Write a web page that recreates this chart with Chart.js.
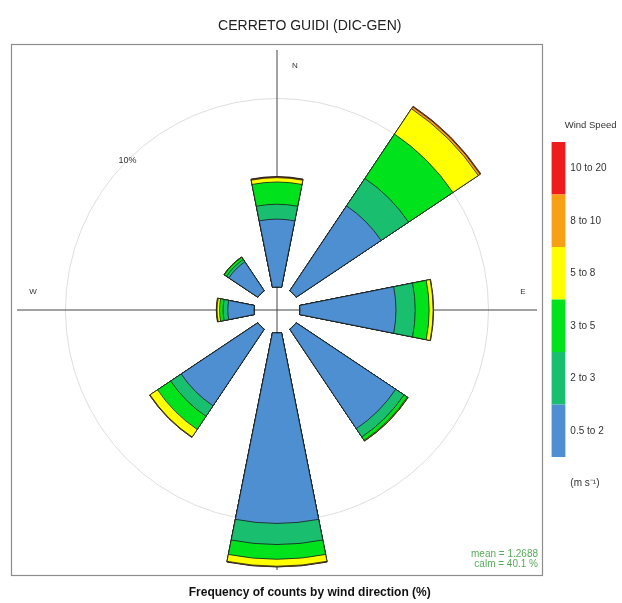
<!DOCTYPE html>
<html>
<head>
<meta charset="utf-8">
<script src="https://cdn.jsdelivr.net/npm/chart.js@4"></script>
<style>
  html, body { margin: 0; padding: 0; background: #fff; }
  #wrap { width: 622px; height: 603px; position: relative; }
</style>
</head>
<body>
<div id="wrap"><canvas id="rose"></canvas></div>
<script>
// wind directions (wedges), speed bins and frequencies (%) per bin
const directions = ["N", "NE", "E", "SE", "S", "SW", "W", "NW"];
const speedBins = ["0.5 to 2", "2 to 3", "3 to 5", "5 to 8", "8 to 10", "10 to 20"];

const ws05to2 = [3.60, 5.42, 5.09, 6.35, 10.10, 4.89, 1.39, 1.85];
const ws2to3  = [0.79, 1.75, 1.02, 0.53, 1.12, 0.67, 0.25, 0.15];
const ws3to5  = [1.18, 2.83, 0.74, 0.21, 0.78, 0.84, 0.19, 0.14];
const ws5to8  = [0.23, 1.62, 0.21, 0.04, 0.37, 0.48, 0.13, 0.02];
const ws8to10 = [0.04, 0.12, 0.02, 0.01, 0.03, 0.03, 0.03, 0.00];
const ws10to20 = [0.02, 0.04, 0.00, 0.00, 0.01, 0.00, 0.01, 0.00];

const gridTicks = [10];
const meanSpeed = "1.2688";
const calmPct = "40.1";

const binColors = ["#4d8fd0", "#19bf6e", "#00e31c", "#ffff00", "#f7a013", "#ee1c1c"];
const FONT = "'Liberation Sans', Arial, sans-serif";

// cumulative stacks, one dataset per bin; odd slots are the gaps between wedges
const bins = [ws05to2, ws2to3, ws3to5, ws5to8, ws8to10, ws10to20];
const running = directions.map(() => 0);
const datasets = bins.map((bin, b) => {
  const data = [];
  directions.forEach((d, i) => {
    running[i] += bin[i];
    data.push(+running[i].toFixed(3));
    data.push(0);
  });
  return {
    label: speedBins[b],
    data: data,
    backgroundColor: (c) => (c.dataIndex % 2 ? "rgba(0,0,0,0)" : binColors[b]),
    borderColor: "#1b1b1b",
    borderWidth: (c) => (c.dataIndex % 2 ? 0 : 0.8)
  };
});

// 32 spokes at 11.25 deg so N/E/S/W fall on a spoke
const spokes = Array.from({ length: 32 }, (_, i) => (i % 8 === 1 ? ["N", "E", "S", "W"][(i - 1) / 8] : ""));

const rMin = -1.22;
const rMax = 12.57;

// wedges start from the hole (value 0) instead of the centre
const holePlugin = {
  id: "hole",
  afterDatasetsUpdate(chart) {
    const r = chart.scales.r;
    const inner = r.getDistanceFromCenterForValue(0);
    chart.data.datasets.forEach((ds, k) => {
      chart.getDatasetMeta(k).data.forEach((arc, i) => {
        if (i % 2 === 0) arc.innerRadius = inner;
      });
    });
  }
};

const framePlugin = {
  id: "frame",
  beforeDatasetsDraw(chart) {
    const r = chart.scales.r;
    const half = r.drawingArea + 5.5;
    const ctx = chart.ctx;
    ctx.save();
    ctx.strokeStyle = "#8c8c8c";
    ctx.lineWidth = 1.2;
    ctx.strokeRect(r.xCenter - half, r.yCenter - half, half * 2, half * 2);
    ctx.restore();
  },
  afterDatasetsDraw(chart) {
    const r = chart.scales.r;
    const ctx = chart.ctx;
    const xc = r.xCenter, yc = r.yCenter, R = r.drawingArea;
    ctx.save();
    ctx.fillStyle = "#333";
    ctx.font = "8px " + FONT;
    ctx.textAlign = "center";
    ctx.textBaseline = "middle";
    ctx.fillText("N", xc + 18, yc - R + 16);
    ctx.fillText("E", xc + R - 14, yc - 18);
    ctx.fillText("W", xc - R + 16, yc - 18);
    ctx.font = "9px " + FONT;
    const r10 = r.getDistanceFromCenterForValue(gridTicks[0]);
    ctx.fillText(gridTicks[0] + "%", xc - r10 * Math.SQRT1_2, yc - r10 * Math.SQRT1_2);
    ctx.fillStyle = "#5aaa5c";
    ctx.font = "10px " + FONT;
    ctx.textAlign = "right";
    ctx.fillText("mean = " + meanSpeed, xc + R + 1, yc + R - 16);
    ctx.fillText("calm = " + calmPct + " %", xc + R + 1, yc + R - 6);
    ctx.restore();
  }
};

new Chart(document.getElementById("rose"), {
  type: "polarArea",
  data: { labels: spokes, datasets: datasets },
  plugins: [holePlugin, framePlugin],
  options: {
    responsive: true,
    maintainAspectRatio: false,
    animation: false,
    events: [],
    layout: { padding: { left: 3, right: 5.5, top: 0, bottom: 0 } },
    scales: {
      r: {
        min: rMin,
        max: rMax,
        startAngle: -11.25,
        beginAtZero: false,
        afterBuildTicks: (s) => { s.ticks = gridTicks.map((v) => ({ value: v })); },
        ticks: { display: false },
        grid: { circular: true, color: "#dedede", lineWidth: 1 },
        angleLines: {
          display: true,
          color: "#444",
          lineWidth: (c) => (c.index % 8 === 1 ? 1 : 0)
        },
        pointLabels: { display: false }
      }
    },
    plugins: {
      title: {
        display: true,
        text: "CERRETO GUIDI (DIC-GEN)",
        color: "#222",
        font: { family: FONT, size: 14, weight: "normal" },
        padding: { top: 18, bottom: 16 }
      },
      subtitle: {
        display: true,
        position: "bottom",
        text: "Frequency of counts by wind direction (%)",
        color: "#111",
        font: { family: FONT, size: 12, weight: "bold" },
        padding: { top: 14, bottom: 3.6 }
      },
      legend: {
        position: "right",
        align: "start",
        onClick: null,
        title: {
          display: true,
          text: "Wind Speed",
          position: "end",
          color: "#333",
          font: { family: FONT, size: 9.5 },
          padding: { top: 121, bottom: 9.6 }
        },
        labels: {
          boxWidth: 14,
          boxHeight: 52.5,
          padding: 0,
          color: "#333",
          font: { family: FONT, size: 10 },
          generateLabels: () =>
            speedBins.map((t, i) => ({
              text: t,
              fillStyle: binColors[i],
              strokeStyle: binColors[i],
              lineWidth: 0,
              hidden: false,
              index: i
            })).reverse().concat([{
              text: "(m s\u207B\u00B9)",
              fillStyle: "rgba(0,0,0,0)",
              strokeStyle: "rgba(0,0,0,0)",
              lineWidth: 0,
              hidden: false
            }])
        }
      },
      tooltip: { enabled: false }
    }
  }
});
</script>
</body>
</html>
